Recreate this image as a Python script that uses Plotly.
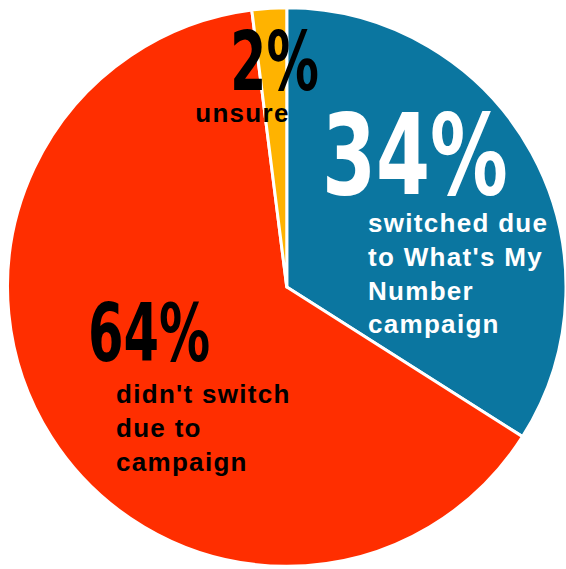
import plotly.graph_objects as go

categories = ["switched due to What's My Number campaign", "didn't switch due to campaign", "unsure"]
values = [34, 64, 2]
colors = ["#0B76A0", "#FF2E00", "#FFB300"]
pct_labels = ["34%", "64%", "2%"]
desc_labels = ["switched due<br>to What's My<br>Number<br>campaign", "didn't switch<br>due to<br>campaign", "unsure"]

W, H = 566, 569

fig = go.Figure(go.Pie(
    labels=categories,
    values=values,
    sort=False,
    direction="clockwise",
    rotation=0,
    textinfo="none",
    hoverinfo="label+percent",
    marker=dict(colors=colors, line=dict(color="white", width=3)),
    domain=dict(x=[0.0133, 1.0], y=[0.0026, 0.9886]),
    showlegend=False,
))

BIG = "DejaVu Sans Condensed, Liberation Sans Narrow, Arial Narrow, sans-serif"
REG = "Liberation Sans, Arial, sans-serif"

def px(x): return x / W
def py(y): return 1 - y / H

ann = [
    dict(text="<b>" + pct_labels[0] + "</b>", x=px(320), y=py(155), xanchor="left", font=dict(family=BIG, size=112, color="white")),
    dict(text="<b>" + desc_labels[0] + "</b>", x=px(366), y=py(273), xanchor="left", align="left", font=dict(family=REG, size=26, color="white")),
    dict(text="<b>" + pct_labels[1] + "</b>", x=px(86), y=py(333), xanchor="left", font=dict(family=BIG, size=80, color="black")),
    dict(text="<b>" + desc_labels[1] + "</b>", x=px(114), y=py(428), xanchor="left", align="left", font=dict(family=REG, size=26, color="black")),
    dict(text="<b>" + pct_labels[2] + "</b>", x=px(228), y=py(62), xanchor="left", font=dict(family=BIG, size=82, color="black")),
    dict(text="<b>" + desc_labels[2] + "</b>", x=px(292), y=py(113), xanchor="right", align="right", font=dict(family=REG, size=26, color="black")),
]
for a in ann:
    a.update(xref="paper", yref="paper", yanchor="middle", showarrow=False)

fig.update_layout(
    width=W, height=H,
    margin=dict(l=0, r=0, t=0, b=0),
    paper_bgcolor="white",
    plot_bgcolor="white",
    annotations=ann,
)

post = """
var gd = document.getElementById('{plot_id}');
var sx = {0: 0.77, 2: 0.71, 4: 0.71};
function fixText(){
  var anns = gd.querySelectorAll('g.annotation');
  anns.forEach(function(g){
    var i = +g.getAttribute('data-index');
    var t = g.querySelector('text.annotation-text');
    if (!t) return;
    if (sx[i]) {
      t.style.transformBox = 'fill-box';
      t.style.transformOrigin = 'left center';
      t.style.transform = 'scaleX(' + sx[i] + ')';
    } else {
      t.style.letterSpacing = '1.3px';
    }
  });
}
fixText();
if (gd.on) gd.on('plotly_afterplot', fixText);
setTimeout(fixText, 50);
"""

fig.write_html("out.html", post_script=post)
